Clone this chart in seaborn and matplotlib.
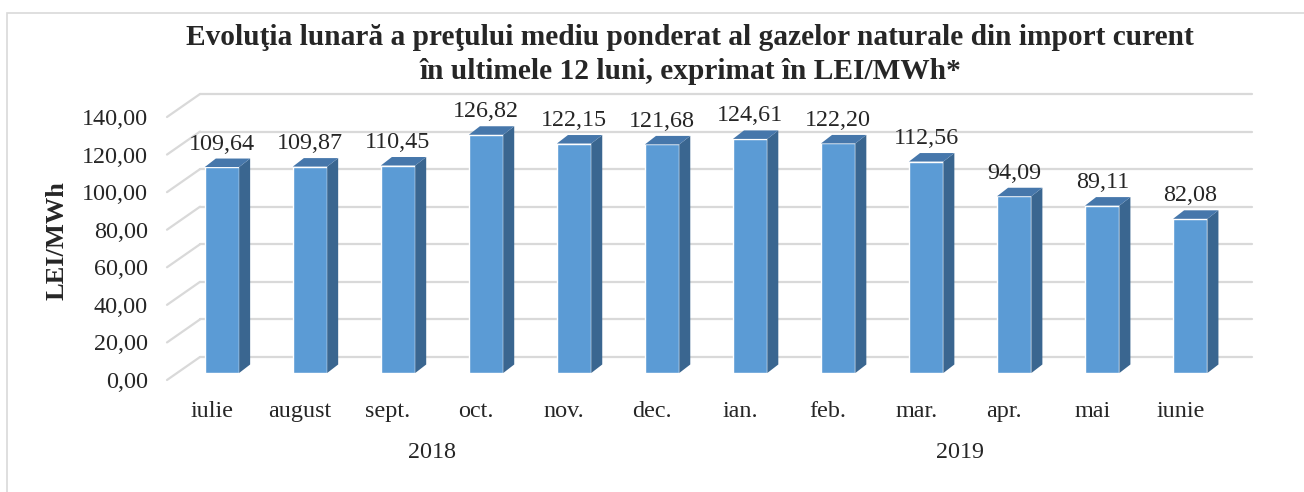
import numpy as np
import pandas as pd
import matplotlib
matplotlib.use("Agg")
import matplotlib.pyplot as plt
import matplotlib.transforms as mtransforms
from matplotlib.patches import Polygon, Rectangle
import seaborn as sns

# ── Data ───────────────────────────────────────────────────────────────────
months = ["iulie", "august", "sept.", "oct.", "nov.", "dec.",
          "ian.", "feb.", "mar.", "apr.", "mai", "iunie"]
prices = [109.64, 109.87, 110.45, 126.82, 122.15, 121.68,
          124.61, 122.20, 112.56, 94.09, 89.11, 82.08]
years = ["2018", "2019"]
year_months = [months[:6], months[6:]]
y_ticks = [0, 20, 40, 60, 80, 100, 120, 140]

TITLE_1 = "Evoluţia lunară a preţului mediu ponderat al gazelor naturale din import curent"
TITLE_2 = "în ultimele 12 luni, exprimat în LEI/MWh*"
Y_LABEL = "LEI/MWh"

# ── Style ──────────────────────────────────────────────────────────────────
W, H, DPI = 1304, 492, 100
FRONT = "#5B9BD5"
SIDE = "#3A6690"
TOP = "#4677AB"
GRID = "#D9D9D9"
FS = 17.4

sns.set_theme(style="white")
plt.rcParams["font.family"] = ["Liberation Serif", "DejaVu Serif"]


def comma(v):
    return f"{v:.2f}".replace(".", ",")


def px_shift(dx, dy):
    """Offset in screen pixels (y up)."""
    return mtransforms.ScaledTranslation(dx / DPI, dy / DPI, fig.dpi_scale_trans)


fig = plt.figure(figsize=(W / DPI, H / DPI), dpi=DPI)
# axes = plane of the bar fronts
ax = fig.add_axes([177 / W, (H - 373) / H, (1229 - 177) / W, 263 / H])

df = pd.DataFrame({"month": months, "price": prices})
sns.barplot(data=df, x="month", y="price", order=months, color=FRONT,
            saturation=1, width=0.39, ax=ax, zorder=1)
ax.set_xlim(-0.511, 11.44)
ax.set_ylim(0, 140)
ax.set(xlabel="", ylabel="")
ax.set_yticks(y_ticks)
ax.tick_params(labelleft=False, labelbottom=False, length=0)
for s in ax.spines.values():
    s.set_visible(False)

back = px_shift(23, 16)     # back wall
front = px_shift(-10, -7)   # front edge of the floor

# back-wall gridlines + floor diagonals
for v in y_ticks:
    ln = ax.axhline(v, color=GRID, lw=1.6, zorder=0.5, clip_on=False)
    ln.set_transform(ln.get_transform() + back)
    ax.annotate("", xy=(0, v), xycoords=ax.get_yaxis_transform() + back,
                xytext=(0, v), textcoords=ax.get_yaxis_transform() + front,
                arrowprops=dict(arrowstyle="-", color=GRID, lw=1.6,
                                shrinkA=0, shrinkB=0),
                annotation_clip=False, zorder=0.5)
    ax.text(0, v, comma(v), transform=ax.get_yaxis_transform() + px_shift(-29, -15),
            ha="right", va="baseline", fontsize=FS)

# 3D side and top faces derived from each bar
o = ax.transData.transform((0, 0))
DX, DY = ax.transData.inverted().transform(o + np.array([11, 8.5]))
for p in list(ax.patches):
    x0, w, h = p.get_x(), p.get_width(), p.get_height()
    x1 = x0 + w
    ax.add_patch(Polygon([(x1, 0), (x1 + DX, DY), (x1 + DX, h + DY), (x1, h)],
                         closed=True, fc=SIDE, ec="none", zorder=2, clip_on=False))
    ax.add_patch(Polygon([(x0, h), (x1, h), (x1 + DX, h + DY), (x0 + DX, h + DY)],
                         closed=True, fc=TOP, ec="none", zorder=2, clip_on=False))

ax.bar_label(ax.containers[0], labels=[comma(v) for v in prices],
             padding=9, fontsize=FS, zorder=3)

# month and year labels on the floor front
for i, m in enumerate(months):
    ax.text(i, 0, m, transform=ax.transData + px_shift(-10, -44),
            ha="center", va="baseline", fontsize=FS)
for yr, grp in zip(years, year_months):
    xc = (months.index(grp[0]) + months.index(grp[-1])) / 2
    ax.text(xc, 0, yr, transform=ax.transData + px_shift(-10, -85),
            ha="center", va="baseline", fontsize=FS)

fig.text(57 / W, 1 - 241 / H, Y_LABEL, rotation=90, ha="center", va="center",
         fontsize=19, fontweight="bold")
fig.text(690 / W, 1 - 45 / H, TITLE_1, ha="center", va="baseline",
         fontsize=21.2, fontweight="bold")
fig.text(690 / W, 1 - 79 / H, TITLE_2, ha="center", va="baseline",
         fontsize=21.2, fontweight="bold")

fig.patches.append(Rectangle((7 / W, -0.1), 1.2, 1.1 - 13 / H, transform=fig.transFigure,
                             fill=False, ec=GRID, lw=1.2))

fig.savefig("out.png", dpi=DPI)
